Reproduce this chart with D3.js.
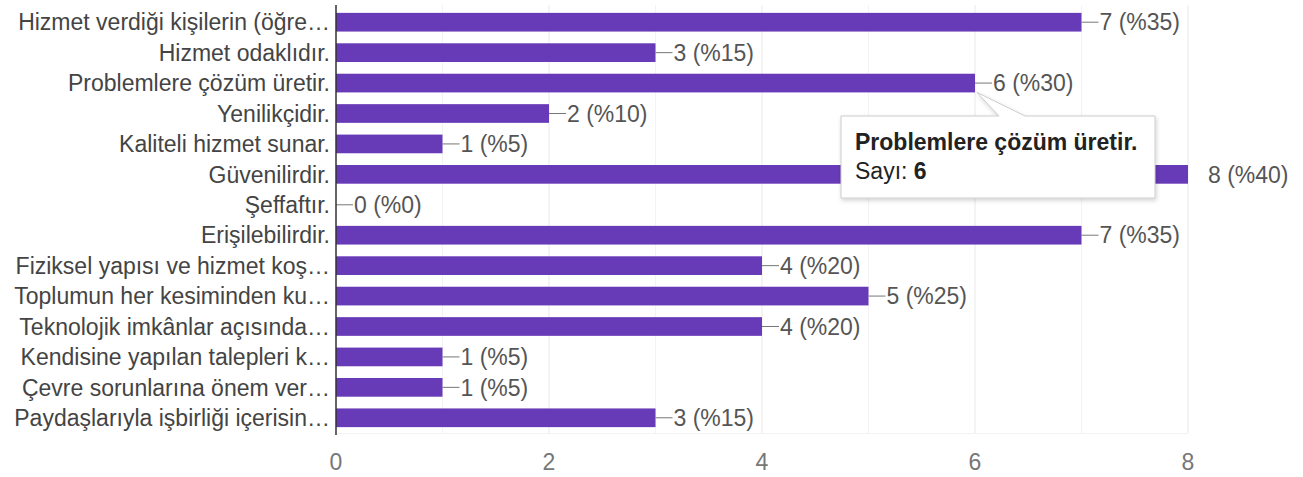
<!DOCTYPE html>
<html>
<head>
<meta charset="utf-8">
<script src="https://cdn.jsdelivr.net/npm/d3@7"></script>
<style>
	body { margin: 0; background: #fff; }
	svg { display: block; font-family: "Liberation Sans", Arial, sans-serif; }
</style>
</head>
<body>
<svg id="chart"></svg>
<script>
	// data
	let categories = [
		"Hizmet verdiği kişilerin (öğre…",
		"Hizmet odaklıdır.",
		"Problemlere çözüm üretir.",
		"Yenilikçidir.",
		"Kaliteli hizmet sunar.",
		"Güvenilirdir.",
		"Şeffaftır.",
		"Erişilebilirdir.",
		"Fiziksel yapısı ve hizmet koş…",
		"Toplumun her kesiminden ku…",
		"Teknolojik imkânlar açısında…",
		"Kendisine yapılan talepleri k…",
		"Çevre sorunlarına önem ver…",
		"Paydaşlarıyla işbirliği içerisin…"
	];
	let counts = [7, 3, 6, 2, 1, 8, 0, 7, 4, 5, 4, 1, 1, 3];
	let percents = [35, 15, 30, 10, 5, 40, 0, 35, 20, 25, 20, 5, 5, 15];
	let tickValues = [0, 2, 4, 6, 8];
	let gridValues = [1, 2, 3, 4, 5, 6, 7, 8];
	let hovered = 2; // "Problemlere çözüm üretir." shown in the tooltip

	let width = 1303;
	let height = 477;
	let fontSize = 23;

	let data = categories.map((c, i) => ({ name: c, qty: counts[i], pct: percents[i] }));

	let svg = d3.select('#chart')
		.attr('width', width)
		.attr('height', height);

	let x = d3.scaleLinear().domain([0, 8]).range([336, 1188]);
	let y = d3.scaleBand().domain(categories).range([7, 433]).paddingInner(0.386).paddingOuter(0.193);

	// grid
	svg.append('g')
		.attr('class', 'grid')
		.selectAll('line')
		.data(gridValues)
		.enter()
		.append('line')
		.attr('x1', d => x(d)).attr('x2', d => x(d))
		.attr('y1', 5).attr('y2', 433)
		.attr('stroke', d => d % 2 === 0 ? '#e9e9e9' : '#f3f3f3')
		.attr('stroke-width', 1);

	svg.append('line')
		.attr('x1', 336).attr('x2', x(8))
		.attr('y1', 433.5).attr('y2', 433.5)
		.attr('stroke', '#f2f2f2');

	// bars
	svg.append('g')
		.attr('class', 'bars')
		.selectAll('rect')
		.data(data)
		.enter()
		.append('rect')
		.attr('x', x(0))
		.attr('y', d => y(d.name))
		.attr('width', d => x(d.qty) - x(0))
		.attr('height', y.bandwidth())
		.attr('fill', '#673ab7');

	// value labels with little leader lines
	let values = svg.append('g').attr('class', 'values');

	values.selectAll('line')
		.data(data.filter(d => d.qty < 8))
		.enter()
		.append('line')
		.attr('x1', d => x(d.qty))
		.attr('x2', d => x(d.qty) + 17)
		.attr('y1', d => y(d.name) + y.bandwidth() / 2)
		.attr('y2', d => y(d.name) + y.bandwidth() / 2)
		.attr('stroke', '#777')
		.attr('stroke-width', 1);

	values.selectAll('text')
		.data(data)
		.enter()
		.append('text')
		.attr('x', d => x(d.qty) + (d.qty < 8 ? 18 : 20))
		.attr('y', d => y(d.name) + y.bandwidth() / 2)
		.attr('dy', '0.36em')
		.attr('font-size', fontSize)
		.attr('fill', '#555')
		.text(d => d.qty + ' (%' + d.pct + ')');

	// category axis
	let yAxis = svg.append('g').attr('class', 'yaxis');

	yAxis.selectAll('text')
		.data(data)
		.enter()
		.append('text')
		.attr('x', 330)
		.attr('y', d => y(d.name) + y.bandwidth() / 2)
		.attr('dy', '0.36em')
		.attr('text-anchor', 'end')
		.attr('font-size', fontSize)
		.attr('fill', '#444')
		.text(d => d.name);

	yAxis.append('line')
		.attr('x1', x(0)).attr('x2', x(0))
		.attr('y1', 5).attr('y2', 435)
		.attr('stroke', '#333')
		.attr('stroke-width', 1.5);

	// value axis
	svg.append('g')
		.attr('class', 'xaxis')
		.selectAll('text')
		.data(tickValues)
		.enter()
		.append('text')
		.attr('x', d => x(d))
		.attr('y', 470)
		.attr('text-anchor', 'middle')
		.attr('font-size', fontSize)
		.attr('fill', '#777')
		.text(d => d);

	// tooltip
	let hd = data[hovered];
	let tipX = x(hd.qty) + 2;
	let tipY = y(hd.name) + y.bandwidth();
	let boxX = 841, boxY = 116, boxW = 314, boxH = 82;

	let defs = svg.append('defs');
	let shadow = defs.append('filter')
		.attr('id', 'shadow')
		.attr('x', '-10%').attr('y', '-10%')
		.attr('width', '130%').attr('height', '140%');
	shadow.append('feDropShadow')
		.attr('dx', 1).attr('dy', 2)
		.attr('stdDeviation', 2)
		.attr('flood-color', '#000')
		.attr('flood-opacity', 0.18);

	let tooltip = svg.append('g').attr('class', 'tooltip');

	tooltip.append('path')
		.attr('d', 'M' + boxX + ',' + boxY
			+ 'H' + (tipX + 22)
			+ 'L' + tipX + ',' + tipY
			+ 'L' + (tipX + 48) + ',' + boxY
			+ 'H' + (boxX + boxW)
			+ 'V' + (boxY + boxH)
			+ 'H' + boxX + 'Z')
		.attr('fill', '#fff')
		.attr('stroke', '#ccc')
		.attr('stroke-width', 1)
		.attr('filter', 'url(#shadow)');

	tooltip.append('text')
		.attr('x', boxX + 14)
		.attr('y', 150)
		.attr('font-size', fontSize)
		.attr('font-weight', 'bold')
		.attr('fill', '#222')
		.text(hd.name);

	let sayi = tooltip.append('text')
		.attr('x', boxX + 14)
		.attr('y', 179)
		.attr('font-size', fontSize)
		.attr('fill', '#222');
	sayi.append('tspan').text('Sayı: ');
	sayi.append('tspan').attr('font-weight', 'bold').text(hd.qty);
</script>
</body>
</html>
